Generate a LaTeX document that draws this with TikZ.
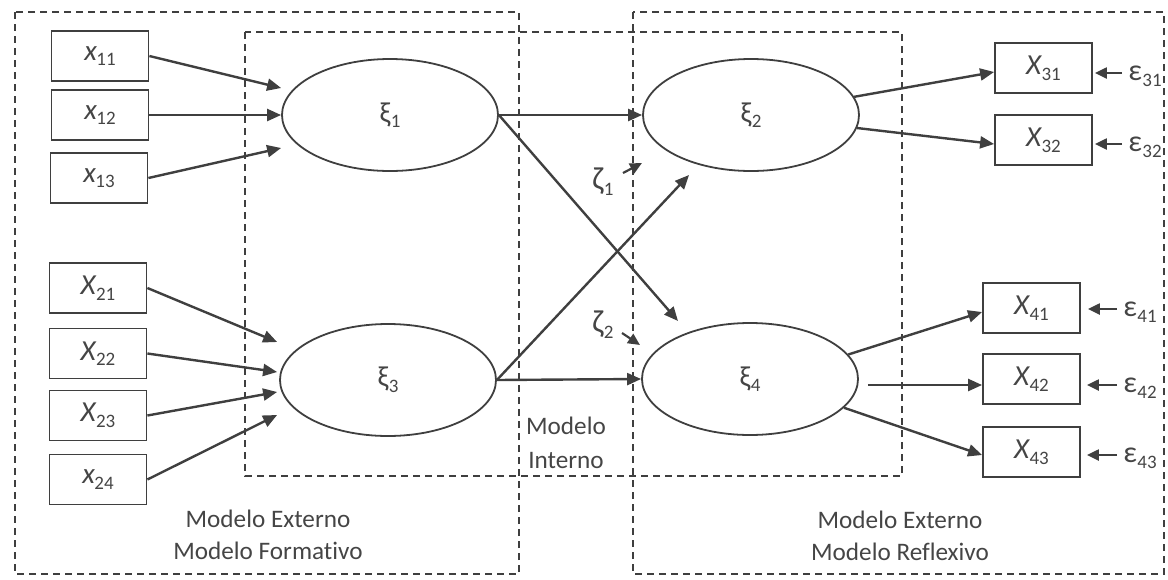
\documentclass[tikz,border=0pt]{standalone}
\usepackage{fontspec}
\setmainfont[Ligatures=NoCommon]{Carlito}
\usetikzlibrary{arrows.meta,shapes.geometric,calc}
\definecolor{ink}{HTML}{3F3F3F}
\definecolor{txt}{HTML}{454545}
% variable with a small lowered index
\newcommand\var[2]{\textit{#1}\kern-0.02em\raisebox{-0.4ex}{\fontsize{9.5}{9.5}\selectfont#2}}
\newcommand\gsym[2]{#1\kern0.01em\raisebox{-0.4ex}{\fontsize{9.5}{9.5}\selectfont#2}}
\tikzset{
  frame/.style={draw=ink, line width=0.75pt, dash pattern=on 3.5pt off 2.5pt},
  obs/.style={draw=ink, line width=0.9pt, minimum width=48.5pt, minimum height=25pt,
    inner sep=0pt, text=txt, font=\fontsize{14.5}{14.5}\selectfont},
  lat/.style={ellipse, draw=ink, line width=0.9pt, minimum width=108pt, minimum height=56pt,
    inner sep=0pt, text=txt, font=\fontsize{14.5}{14.5}\selectfont},
  arr/.style={draw=ink, line width=1.2pt, -{Triangle[length=7pt,width=6pt]}},
  sarr/.style={draw=ink, line width=1.1pt, -{Triangle[length=6pt,width=5.5pt]}},
  lbl/.style={text=txt, font=\fontsize{12.6}{16}\selectfont, align=center},
  glbl/.style={text=txt, font=\fontsize{16}{16}\selectfont, inner sep=0pt},
  elbl/.style={glbl, anchor=west, font=\fontsize{15}{15}\selectfont},
}
\begin{document}
\begin{tikzpicture}[x=0.5pt,y=-0.5pt]
\useasboundingbox (0,0) rectangle (1168,579);

% model regions
\draw[frame] (15,12) rectangle (519,574);
\draw[frame] (633,12) rectangle (1164,574);
\draw[frame] (245,32) rectangle (902,476);

% formative indicators
\node[obs] (x11) at (100,56)    {\var{x}{11}};
\node[obs] (x12) at (100,115)   {\var{x}{12}};
\node[obs] (x13) at (99,178)    {\var{x}{13}};
\node[obs] (x21) at (98,288)    {\var{X}{21}};
\node[obs] (x22) at (98,353.5)  {\var{X}{22}};
\node[obs] (x23) at (98,415.5)  {\var{X}{23}};
\node[obs] (x24) at (98,479.5)  {\var{x}{24}};

% latent constructs
\node[lat] (xi1) at (390,115) {\gsym{ξ}{1}};
\node[lat] (xi3) at (388,380) {\gsym{ξ}{3}};
\node[lat] (xi2) at (751,115) {\gsym{ξ}{2}};
\node[lat] (xi4) at (750,379) {\gsym{ξ}{4}};

% reflective indicators
\node[obs] (X31) at (1043.5,68)  {\var{X}{31}};
\node[obs] (X32) at (1043.5,140) {\var{X}{32}};
\node[obs] (X41) at (1031.5,308) {\var{X}{41}};
\node[obs] (X42) at (1031.5,379) {\var{X}{42}};
\node[obs] (X43) at (1031.5,452) {\var{X}{43}};

% error terms
\node[elbl] (e31) at (1128,76)  {\gsym{ε}{31}};
\node[elbl] (e32) at (1128,147) {\gsym{ε}{32}};
\node[elbl] (e41) at (1123,312) {\gsym{ε}{41}};
\node[elbl] (e42) at (1123,388) {\gsym{ε}{42}};
\node[elbl] (e43) at (1123,458) {\gsym{ε}{43}};

% disturbances
\node[glbl] (z1) at (603,182) {\gsym{ζ}{1}};
\node[glbl] (z2) at (603,325) {\gsym{ζ}{2}};

% region captions
\node[lbl] (capF) at (268,535) {Modelo Externo\\Modelo Formativo};
\node[lbl, font=\fontsize{12.6}{17}\selectfont] (capI) at (566,443) {Modelo\\Interno};
\node[lbl] (capR) at (900,536) {Modelo Externo\\Modelo Reflexivo};

% formative paths
\draw[arr] (x11.east) -- ($(xi1.west)+(0,-27)$);
\draw[arr] (x12.east) -- (xi1.west);
\draw[arr] (x13.east) -- ($(xi1.west)+(0,33)$);
\draw[arr] (x21.east) -- ($(xi3.west)+(-2,-38)$);
\draw[arr] (x22.east) -- ($(xi3.west)+(-2,-8)$);
\draw[arr] (x23.east) -- ($(xi3.west)+(-2,12)$);
\draw[arr] (x24.east) -- ($(xi3.west)+(-2,35)$);

% structural paths
\draw[arr] (xi1.east) -- (xi2.west);
\draw[arr] (xi1.east) -- ($(xi4.center)+(-72,-58)$);
\draw[arr] (xi3.east) -- ($(xi2.center)+(-62,60)$);
\draw[arr] (xi3.east) -- (xi4.west);
\draw[sarr] ($(z1.center)+(20,-9)$) -- ($(xi2.center)+(-109,48)$);
\draw[sarr] ($(z2.center)+(19,8)$) -- ($(xi4.center)+(-110,-34)$);

% reflective paths
\draw[arr] (xi2.10) -- ($(X31.west)+(0,4)$);
\draw[arr] (xi2.-7) -- ($(X32.west)+(0,4)$);
\draw[arr] (xi4.14) -- ($(X41.west)+(0,4)$);
\draw[arr] ($(xi4.east)+(9,6)$) -- ($(X42.west)+(0,6)$);
\draw[arr] (xi4.-17) -- ($(X43.west)+(0,3)$);

% measurement errors
\draw[sarr] ($(e31.west)+(-6,-3)$) -- ($(e31.west -| X31.east)+(2,-3)$);
\draw[sarr] ($(e32.west)+(-6,-3)$) -- ($(e32.west -| X32.east)+(2,-3)$);
\draw[sarr] ($(e41.west)+(-6,-3)$) -- ($(e41.west -| X41.east)+(7,-3)$);
\draw[sarr] ($(e42.west)+(-6,-3)$) -- ($(e42.west -| X42.east)+(6,-3)$);
\draw[sarr] ($(e43.west)+(-6,-3)$) -- ($(e43.west -| X43.east)+(6,-3)$);
\end{tikzpicture}
\end{document}
